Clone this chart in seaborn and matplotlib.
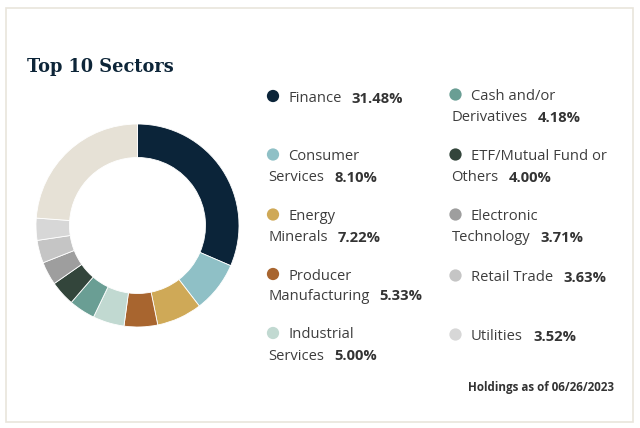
import matplotlib
matplotlib.use("Agg")
import matplotlib.pyplot as plt
from matplotlib.patches import Rectangle
import seaborn as sns

# ---- data ----
sectors = ["Finance", "Consumer Services", "Energy Minerals", "Producer Manufacturing",
           "Industrial Services", "Cash and/or Derivatives", "ETF/Mutual Fund or Others",
           "Electronic Technology", "Retail Trade", "Utilities", "Other"]
weights = [31.48, 8.10, 7.22, 5.33, 5.00, 4.18, 4.00, 3.71, 3.63, 3.52, 23.83]
pct_labels = ["31.48%", "8.10%", "7.22%", "5.33%", "5.00%", "4.18%", "4.00%",
              "3.71%", "3.63%", "3.52%"]
# legend text split into first line / second line
line1 = ["Finance", "Consumer", "Energy", "Producer", "Industrial",
         "Cash and/or", "ETF/Mutual Fund or", "Electronic", "Retail Trade", "Utilities"]
line2 = ["", "Services", "Minerals", "Manufacturing", "Services",
         "Derivatives", "Others", "Technology", "", ""]
colors = ["#0b2439", "#8fc0c6", "#cfa957", "#a8652f", "#c1d9d1", "#6a9e94",
          "#33453b", "#9e9e9e", "#c5c5c5", "#d7d7d7", "#e6e1d6"]
title = "Top 10 Sectors"
footnote = "Holdings as of 06/26/2023"

sns.set_theme(style="white")
plt.rcParams["font.family"] = ["Open Sans", "DejaVu Sans"]

W, H = 640, 428
fig = plt.figure(figsize=(W / 100, H / 100), dpi=100)
fig.patch.set_facecolor("white")

# overlay axes in pixel coordinates (y down)
tax = fig.add_axes([0, 0, 1, 1])
tax.set_xlim(0, W)
tax.set_ylim(H, 0)
tax.axis("off")

tax.add_patch(Rectangle((6, 8), 627, 414, fill=False, edgecolor="#e9e5dc", lw=1.2))

tax.text(27, 72, title, fontsize=12.8, fontweight="bold", color="#0d2538",
         family=["DejaVu Serif"], va="baseline", ha="left")

# donut
cx, cy, r = 137.5, 225.5, 101.5
pax = fig.add_axes([(cx - r) / W, 1 - (cy + r) / H, 2 * r / W, 2 * r / H])
pax.pie(weights, colors=sns.color_palette(colors), startangle=90, counterclock=False,
        radius=1.0, wedgeprops=dict(width=0.33, edgecolor="white", linewidth=0.6))
pax.set_xlim(-1, 1)
pax.set_ylim(-1, 1)
pax.set_aspect("auto")
pax.axis("off")

# legend layout (pixels)
col_dot_x = [273, 455.5]
col_text_x = [288, 471]
col_line2_x = [268, 451.5]
row_base1 = [101.5, 160, 220, 279.5, 338.5]
row_base2 = [120.5, 180.5, 240.5, 299.5, 359.5]

fs = 10.6
txt_color = "#3d3d3d"
for i in range(10):
    col = i // 5
    row = i % 5
    b1 = row_base1[row] - (1.5 if col == 1 and row == 0 else 0) + (1.5 if col == 1 and row >= 3 else 0)
    tax.scatter([col_dot_x[col]], [b1 - 5.5], s=78, color=colors[i], edgecolors="none", zorder=3)
    t1 = tax.text(col_text_x[col], b1, line1[i], fontsize=fs, color=txt_color,
                  va="baseline", ha="left")
    if line2[i]:
        t2 = tax.text(col_line2_x[col], row_base2[row], line2[i], fontsize=fs, color=txt_color,
                      va="baseline", ha="left")
        anchor = t2
    else:
        anchor = t1
    tax.annotate(pct_labels[i], xy=(1, 0), xycoords=anchor, xytext=(7.5, 0),
                 textcoords="offset points", fontsize=fs, fontweight="bold",
                 color="#333333", va="bottom", ha="left")

tax.text(614, 390.5, footnote, fontsize=8.4, fontweight="bold", color="#333333",
         va="baseline", ha="right")

fig.savefig("out.png", dpi=100, facecolor="white")
